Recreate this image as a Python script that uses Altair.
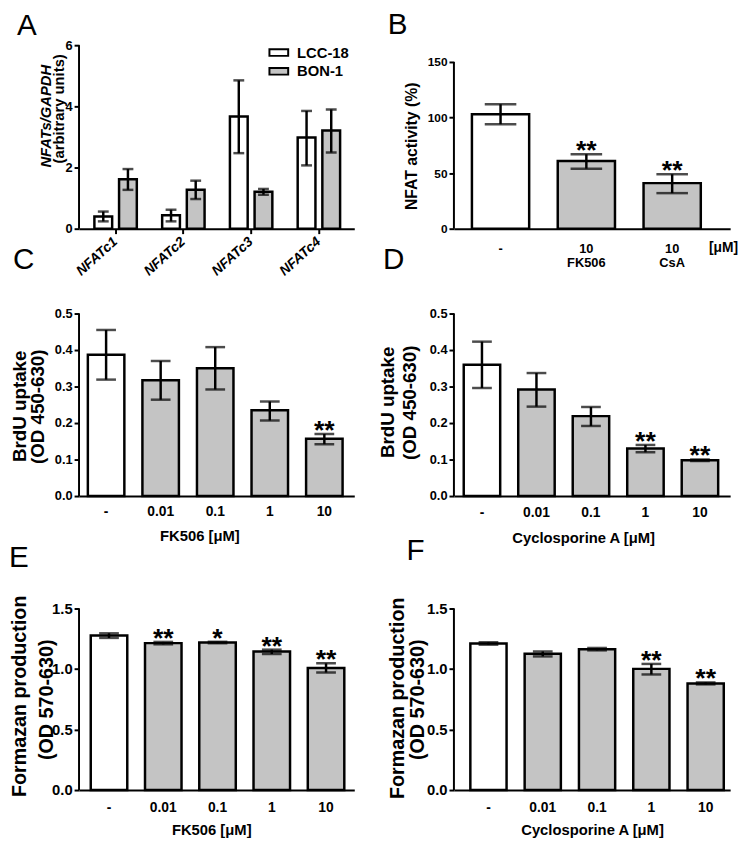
import altair as alt
import pandas as pd

FONT = "Liberation Sans"
LETTER_FONT = "Liberation Sans"
GRAY = "#c4c4c4"
LW = 2.5

# ---------------- data ----------------
# Panel A
a_genes = ["NFATc1", "NFATc2", "NFATc3", "NFATc4"]
a_cells = ["LCC-18", "BON-1"]
a_lcc_mean = [0.40, 0.44, 3.67, 2.98]
a_lcc_lo = [0.24, 0.24, 2.47, 2.07]
a_lcc_hi = [0.56, 0.62, 4.85, 3.85]
a_bon_mean = [1.62, 1.27, 1.21, 3.21]
a_bon_lo = [1.27, 0.97, 1.11, 2.49]
a_bon_hi = [1.95, 1.57, 1.30, 3.90]
a_yticks = [0, 2, 4, 6]

# Panel B
b_groups = ["-", "10|FK506", "10|CsA"]
b_mean = [103, 61, 41]
b_lo = [94, 54, 32]
b_hi = [112, 67, 49]
b_star = ["", "**", "**"]
b_yticks = [0, 50, 100, 150]

# Panels C-F
dose_labels = ["-", "0.01", "0.1", "1", "10"]

c_mean = [0.387, 0.317, 0.350, 0.235, 0.157]
c_lo = [0.319, 0.264, 0.292, 0.207, 0.142]
c_hi = [0.455, 0.370, 0.408, 0.259, 0.170]
c_star = ["", "", "", "", "**"]

d_mean = [0.360, 0.292, 0.219, 0.130, 0.098]
d_lo = [0.296, 0.245, 0.192, 0.120, 0.096]
d_hi = [0.423, 0.337, 0.244, 0.140, 0.100]
d_star = ["", "", "", "**", "**"]

e_mean = [1.276, 1.214, 1.219, 1.145, 1.009]
e_lo = [1.257, 1.204, 1.213, 1.124, 0.971]
e_hi = [1.295, 1.224, 1.225, 1.160, 1.047]
e_star = ["", "**", "*", "**", "**"]

f_mean = [1.211, 1.126, 1.164, 1.001, 0.881]
f_lo = [1.201, 1.104, 1.154, 0.955, 0.873]
f_hi = [1.221, 1.145, 1.174, 1.042, 0.889]
f_star = ["", "", "", "**", "**"]

brdu_ticks = [0, 0.1, 0.2, 0.3, 0.4, 0.5]
formazan_ticks = [0, 0.5, 1.0, 1.5]


def letter_title(letter, dx, dy):
    return alt.TitleParams(text=letter, anchor="start", frame="group", orient="top",
                           offset=0, dx=dx, dy=dy, baseline="alphabetic",
                           font=LETTER_FONT, fontSize=30, fontWeight="normal", color="black")


def title_line(text, x, y, size, italic=False):
    kw = dict(font=FONT, fontSize=size, fontWeight="bold", angle=270, align="center",
              baseline="bottom", color="black")
    if italic:
        kw["fontStyle"] = "italic"
    return alt.Chart(pd.DataFrame({"t": [text]})).mark_text(**kw).encode(
        x=alt.value(x), y=alt.value(y), text="t:N")


def single_panel(cats, mean, lo, hi, stars, *, letter, letter_dx, letter_dy, width, height,
                 ydomain_max, yticks, yformat, ytitle, ytitle_x, ytitle_y, ytitle_size,
                 ylabel_size, xtitle, xtitle_x, xtitle_y, xtitle_align,
                 xlabel_size, xlabel_pad, pin, pout, align, cap, label_expr=None,
                 xtitle_size=15, star_dy=5, ytitle1=None):
    df = pd.DataFrame({"cat": cats, "mean": mean, "lo": lo, "hi": hi, "star": stars})
    xsc = alt.Scale(domain=cats, paddingInner=pin, paddingOuter=pout, align=align)
    ysc = alt.Scale(domain=[0, ydomain_max], nice=False, zero=True)
    xkw = dict(title=xtitle, ticks=False, tickSize=0, labelPadding=xlabel_pad, labelAngle=0,
               labelFontSize=xlabel_size, titleFontSize=xtitle_size, titleX=xtitle_x,
               titleY=xtitle_y, titleAlign=xtitle_align, titleBaseline="middle",
               labelLineHeight=14)
    if label_expr:
        xkw["labelExpr"] = label_expr
    xaxis = alt.Axis(**xkw)
    yaxis = alt.Axis(values=yticks, format=yformat, domain=False, title=ytitle,
                     titleX=ytitle_x, titleY=ytitle_y, titleAlign="center",
                     titleBaseline="bottom", titleAngle=270, titleFontSize=ytitle_size,
                     labelFontSize=ylabel_size, labelPadding=2, tickSize=5)
    base = alt.Chart(df)
    xe = alt.X("cat:N", sort=cats, scale=xsc, axis=xaxis)
    bars = base.mark_bar(stroke="black", strokeWidth=LW).encode(
        x=xe,
        y=alt.Y("mean:Q", scale=ysc, axis=yaxis),
        fill=alt.condition(f"datum.cat == '{cats[0]}'", alt.value("white"), alt.value(GRAY)),
    )
    err = base.mark_rule(color="black", strokeWidth=LW).encode(
        x=xe, y=alt.Y("lo:Q", scale=ysc, axis=yaxis), y2="hi:Q")
    cap_lo = base.mark_tick(color="black", thickness=LW, size=cap).encode(
        x=xe, y=alt.Y("lo:Q", scale=ysc, axis=yaxis))
    cap_hi = base.mark_tick(color="black", thickness=LW, size=cap).encode(
        x=xe, y=alt.Y("hi:Q", scale=ysc, axis=yaxis))
    star = base.transform_filter("datum.star != ''").mark_text(
        font=FONT, fontSize=27, fontWeight="bold", baseline="alphabetic", dy=star_dy,
        color="black").encode(x=xe, y=alt.Y("hi:Q", scale=ysc, axis=yaxis), text="star:N")
    yline = alt.Chart(pd.DataFrame({"y0": [0], "y1": [yticks[-1]]})).mark_rule(
        color="black", strokeWidth=2).encode(
        x=alt.value(0), y=alt.Y("y0:Q", scale=ysc, axis=yaxis), y2="y1:Q")
    layers = [bars, err, cap_lo, cap_hi, star, yline]
    if ytitle1:
        layers.append(title_line(ytitle1[0], ytitle1[1], ytitle1[2], ytitle_size))
    return alt.layer(*layers).properties(
        width=width, height=height, title=letter_title(letter, letter_dx, letter_dy))


# ---------------- panel A ----------------
rowsA = []
for i, g in enumerate(a_genes):
    rowsA.append({"gene": g, "cell": a_cells[0], "mean": a_lcc_mean[i], "lo": a_lcc_lo[i], "hi": a_lcc_hi[i]})
    rowsA.append({"gene": g, "cell": a_cells[1], "mean": a_bon_mean[i], "lo": a_bon_lo[i], "hi": a_bon_hi[i]})
dfA = pd.DataFrame(rowsA)
xscA = alt.Scale(domain=a_genes, paddingInner=0.374, paddingOuter=0.218, align=0.52)
xoscA = alt.Scale(domain=a_cells, paddingInner=0.28, paddingOuter=0)
yscA = alt.Scale(domain=[0, 6], nice=False, zero=True)
xaxisA = alt.Axis(title=None, labelAngle=-42, labelFontStyle="italic",
                  labelFontSize=14, labelAlign="right", labelBaseline="middle",
                  labelPadding=6, tickSize=5)
yaxisA = alt.Axis(values=a_yticks, format="d", domain=False, title="(arbitrary units)",
                  titleX=-13, titleY=64, titleAlign="center", titleBaseline="bottom",
                  titleAngle=270, titleFontSize=15, labelFontSize=13, labelPadding=2,
                  tickSize=5)
baseA = alt.Chart(dfA)
xeA = alt.X("gene:N", sort=a_genes, scale=xscA, axis=xaxisA)
xoA = alt.XOffset("cell:N", sort=a_cells, scale=xoscA)
barsA = baseA.mark_bar(stroke="black", strokeWidth=LW).encode(
    x=xeA,
    xOffset=xoA,
    y=alt.Y("mean:Q", scale=yscA, axis=yaxisA),
    fill=alt.Fill("cell:N", sort=a_cells, scale=alt.Scale(domain=a_cells, range=["white", GRAY]),
                  legend=alt.Legend(orient="none", legendX=192, legendY=-3, title=None,
                                    symbolType="M-1,-0.35L1,-0.35L1,0.35L-1,0.35Z",
                                    symbolSize=361, symbolStrokeColor="black",
                                    symbolStrokeWidth=2, labelFont=FONT, labelFontSize=15,
                                    labelFontWeight="bold", labelColor="black", labelOffset=8,
                                    rowPadding=0, padding=0)),
)
errA = baseA.mark_rule(color="black", strokeWidth=LW).encode(
    x=xeA, xOffset=xoA, y=alt.Y("lo:Q", scale=yscA, axis=yaxisA), y2="hi:Q")
capLoA = baseA.mark_tick(color="black", thickness=LW, size=11).encode(
    x=xeA, xOffset=xoA, y=alt.Y("lo:Q", scale=yscA, axis=yaxisA))
capHiA = baseA.mark_tick(color="black", thickness=LW, size=11).encode(
    x=xeA, xOffset=xoA, y=alt.Y("hi:Q", scale=yscA, axis=yaxisA))
ylineA = alt.Chart(pd.DataFrame({"y0": [0], "y1": [a_yticks[-1]]})).mark_rule(
    color="black", strokeWidth=2).encode(x=alt.value(0), y=alt.Y("y0:Q", scale=yscA, axis=yaxisA), y2="y1:Q")
ylabA = title_line("NFATs/GAPDH", -25, 72, 15, italic=True)
panelA = alt.layer(barsA, errA, capLoA, capHiA, ylineA, ylabA).properties(
    width=279, height=186, title=letter_title("A", -63, 26))

# ---------------- panel B ----------------
panelB = single_panel(
    b_groups, b_mean, b_lo, b_hi, b_star, letter="B", letter_dx=-67, letter_dy=19,
    width=280, height=186, ydomain_max=165.1, yticks=b_yticks, yformat="d",
    ytitle="NFAT activity (%)", ytitle_x=-35, ytitle_y=102, ytitle_size=16,
    ylabel_size=12, xtitle="[μM]", xtitle_x=258, xtitle_y=19, xtitle_align="left",
    xlabel_size=13, xlabel_pad=14, pin=0.333, pout=0.276, align=0.38, cap=32,
    label_expr="split(datum.label, '|')", xtitle_size=14)

# ---------------- panels C-F ----------------
panelC = single_panel(
    dose_labels, c_mean, c_lo, c_hi, c_star, letter="C", letter_dx=-67, letter_dy=-9,
    width=279, height=185, ydomain_max=0.5, yticks=brdu_ticks, yformat=".1f",
    ytitle="(OD 450-630)", ytitle_x=-32, ytitle_y=94, ytitle_size=19,
    ytitle1=("BrdU uptake", -50, 94),
    ylabel_size=13, xtitle="FK506 [μM]", xtitle_x=122, xtitle_y=40,
    xtitle_align="center", xlabel_size=14, xlabel_pad=9, pin=0.331, pout=0.188,
    align=0.43, cap=20)
panelD = single_panel(
    dose_labels, d_mean, d_lo, d_hi, d_star, letter="D", letter_dx=-72, letter_dy=-9,
    width=280, height=185, ydomain_max=0.5, yticks=brdu_ticks, yformat=".1f",
    ytitle="(OD 450-630)", ytitle_x=-35, ytitle_y=90, ytitle_size=19,
    ytitle1=("BrdU uptake", -57, 90),
    ylabel_size=13, xtitle="Cyclosporine A [μM]", xtitle_x=131, xtitle_y=42,
    xtitle_align="center", xlabel_size=14, xlabel_pad=10, pin=0.331, pout=0.2,
    align=0.45, cap=20)
panelE = single_panel(
    dose_labels, e_mean, e_lo, e_hi, e_star, letter="E", letter_dx=-71, letter_dy=16,
    width=279, height=212, ydomain_max=1.728, yticks=formazan_ticks, yformat=".1f",
    ytitle="(OD 570-630)", ytitle_x=-23, ytitle_y=120, ytitle_size=20,
    ytitle1=("Formazan production", -50, 117),
    ylabel_size=15, xtitle="FK506 [μM]", xtitle_x=134,
    xtitle_y=40, xtitle_align="center", xlabel_size=14, xlabel_pad=11, pin=0.327,
    pout=0.2, align=0.54, cap=20)
panelF = single_panel(
    dose_labels, f_mean, f_lo, f_hi, f_star, letter="F", letter_dx=-48, letter_dy=9,
    width=280, height=212, ydomain_max=1.728, yticks=formazan_ticks, yformat=".1f",
    ytitle="(OD 570-630)", ytitle_x=-27, ytitle_y=120, ytitle_size=20,
    ytitle1=("Formazan production", -47, 119),
    ylabel_size=15, xtitle="Cyclosporine A [μM]", xtitle_x=140,
    xtitle_y=40, xtitle_align="center", xlabel_size=14, xlabel_pad=11, pin=0.333,
    pout=0.21, align=0.72, cap=20)

chart = alt.concat(
    panelA, panelB, panelC, panelD, panelE, panelF,
    columns=2, spacing={"row": 86, "column": 101}, bounds="flush", align="each",
).properties(
    padding={"left": 1, "top": -3, "right": 4, "bottom": 2}
).configure_view(stroke=None).configure_axis(
    domainColor="black", domainWidth=2, tickColor="black", tickWidth=2,
    labelColor="black", titleColor="black", labelFont=FONT, titleFont=FONT,
    labelFontWeight="bold", titleFontWeight="bold", grid=False,
)

chart.save("out.html", embed_options={"renderer": "svg", "actions": False})
